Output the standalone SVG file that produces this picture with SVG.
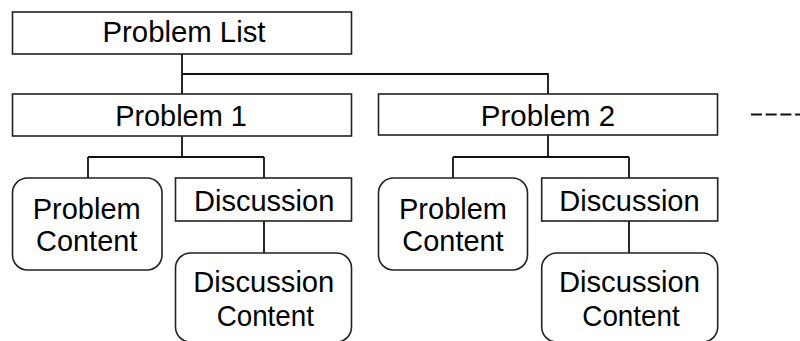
<svg xmlns="http://www.w3.org/2000/svg" width="800" height="341" viewBox="0 0 800 341">
<style>
.box{fill:#fff;stroke:#222;stroke-width:1.6}
.ln{fill:none;stroke:#111;stroke-width:1.8}
text{font-family:"Liberation Sans",Arial,sans-serif;font-size:29px;fill:#000;text-anchor:middle}
</style>
<rect width="800" height="341" fill="#fff"/>
<g id="connectors">
<path class="ln" d="M182 54V94M182 74H548V94M182 136V157M88 157H264M88 157V178M264 157V178M264 221V253M548 135V157M453 157H629M453 157V178M629 157V178M629 221V253"/>
<path class="ln" d="M751 114.5H800" stroke-width="2.6" stroke-dasharray="11 3.7"/>
</g>
<g id="problem-list"><rect class="box" x="12.5" y="12" width="339" height="42"/><text x="184" y="42" textLength="163" lengthAdjust="spacingAndGlyphs">Problem List</text></g>
<g id="problem-1"><rect class="box" x="12.5" y="94" width="339" height="42"/><text x="181" y="125.5" textLength="131.7" lengthAdjust="spacingAndGlyphs">Problem 1</text></g>
<g id="problem-2"><rect class="box" x="378.5" y="94" width="339" height="41"/><text x="548" y="125.5" textLength="134.3" lengthAdjust="spacingAndGlyphs">Problem 2</text></g>
<g id="problem-content-1"><rect class="box" x="12.5" y="178" width="149.5" height="92" rx="15"/><text x="86.7" y="218.5" textLength="108" lengthAdjust="spacingAndGlyphs">Problem</text><text x="86.7" y="251" textLength="101.3" lengthAdjust="spacingAndGlyphs">Content</text></g>
<g id="discussion-1"><rect class="box" x="175.5" y="178" width="176" height="43"/><text x="264.2" y="211" textLength="140.3" lengthAdjust="spacingAndGlyphs">Discussion</text></g>
<g id="discussion-content-1"><rect class="box" x="175.5" y="253" width="176" height="89" rx="15"/><text x="263.8" y="291.5" textLength="141" lengthAdjust="spacingAndGlyphs">Discussion</text><text x="265.3" y="325.5" textLength="97.3" lengthAdjust="spacingAndGlyphs">Content</text></g>
<g id="problem-content-2"><rect class="box" x="378.5" y="178" width="149" height="92" rx="15"/><text x="453" y="218.5" textLength="108" lengthAdjust="spacingAndGlyphs">Problem</text><text x="453" y="251" textLength="101.3" lengthAdjust="spacingAndGlyphs">Content</text></g>
<g id="discussion-2"><rect class="box" x="541.7" y="178" width="176" height="43"/><text x="629.5" y="211" textLength="140.3" lengthAdjust="spacingAndGlyphs">Discussion</text></g>
<g id="discussion-content-2"><rect class="box" x="541.7" y="253" width="176" height="89" rx="15"/><text x="629.5" y="291.5" textLength="141" lengthAdjust="spacingAndGlyphs">Discussion</text><text x="631" y="325.5" textLength="97.3" lengthAdjust="spacingAndGlyphs">Content</text></g>
</svg>
